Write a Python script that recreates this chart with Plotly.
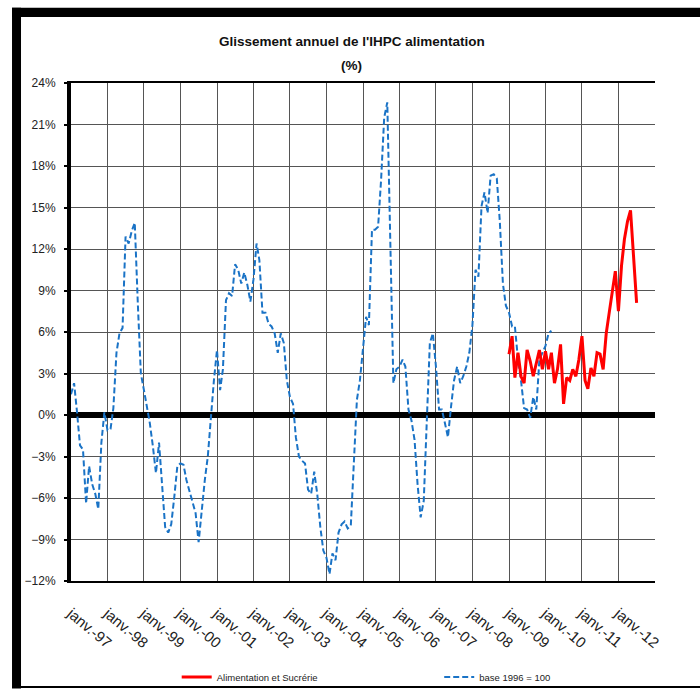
import pandas as pd
import plotly.graph_objects as go

# ---- data ----
blue_start = "1997-01-01"
blue_values = [
    1.5, 2.3, 0.3, -2.2, -2.5, -6.4, -3.7, -5.0, -5.7, -6.8, -2.0, 0.2,          # 1997
    -1.1, -1.0, 0.5, 4.5, 5.9, 6.3, 12.9, 12.4, 13.3, 13.9, 8.0, 3.0,            # 1998
    1.8, 0.6, -0.6, -2.3, -4.2, -2.0, -5.4, -8.1, -8.5, -7.9, -5.9, -3.7,        # 1999
    -3.5, -3.6, -4.7, -5.5, -6.4, -7.1, -9.2, -6.9, -4.7, -3.0, -0.1, 2.5,       # 2000
    4.7, 1.8, 3.3, 8.3, 8.8, 8.6, 10.9, 10.5, 9.5, 10.3, 9.4, 8.2,               # 2001
    9.8, 12.4, 11.2, 7.4, 7.4, 6.6, 6.4, 5.9, 4.5, 5.9, 5.2, 2.5,                # 2002
    1.3, 0.8, -1.6, -3.0, -3.3, -3.5, -5.4, -5.7, -4.1, -5.7, -8.1, -9.8,        # 2003
    -10.3, -11.5, -10.0, -10.5, -8.5, -7.9, -7.7, -8.2, -8.0, -4.0, 1.1, 2.5,    # 2004
    5.0, 7.1, 6.5, 13.4, 13.4, 13.6, 17.0, 21.5, 22.6, 12.0, 2.3, 3.3,           # 2005
    3.5, 4.0, 3.5, 0.4, -0.4, -1.8, -5.0, -7.4, -6.2, -0.5, 5.2, 5.9,            # 2006
    3.5, 0.4, 0.4, -0.6, -1.6, 0.6, 2.5, 3.5, 2.3, 2.8, 3.5, 4.5,                # 2007
    6.5, 10.5, 10.0, 15.1, 16.1, 14.6, 17.3, 17.4, 17.1, 14.0, 9.5, 7.9,         # 2008
    7.4, 6.4, 6.4, 4.0, 2.5, 0.5, 0.4, -0.2, 1.3, 0.4, 4.0, 4.5,                 # 2009
    5.0, 5.9, 6.1,                                                               # 2010
]
red_start = "2009-01-01"
red_values = [
    4.4, 5.7, 2.7, 4.5, 2.8, 2.3, 4.7, 3.9, 2.8, 3.8, 4.7, 3.3,                  # 2009
    4.6, 3.3, 4.5, 2.3, 3.3, 5.1, 0.8, 2.7, 2.5, 3.3, 2.8, 4.0,                  # 2010
    5.7, 2.5, 1.9, 3.4, 2.8, 4.5, 4.4, 3.3, 5.9, 7.4, 8.8, 10.4,                 # 2011
    7.5, 10.8, 12.7, 14.0, 14.8, 11.0, 8.1,                                      # 2012
]
series_names = ["Alimentation et Sucrérie", "base 1996 = 100"]
tick_years = list(range(1997, 2014))
tick_labels = ["janv.-%02d" % (y % 100) for y in tick_years[:-1]] + [""]
title_line1 = "Glissement annuel de l'IHPC alimentation"
title_line2 = "(%)"

x_blue = pd.date_range(blue_start, periods=len(blue_values), freq="MS")
x_red = pd.date_range(red_start, periods=len(red_values), freq="MS")
tick_vals = [pd.Timestamp(f"{y}-01-01") for y in tick_years]

FONT = "Liberation Sans, Arial, sans-serif"

fig = go.Figure()
fig.add_trace(go.Scatter(
    x=x_blue, y=blue_values, mode="lines", name=series_names[1],
    line=dict(color="#1a73c6", width=2, dash="6px,3px"), legend="legend2",
))
fig.add_trace(go.Scatter(
    x=x_red, y=red_values, mode="lines", name=series_names[0],
    line=dict(color="#ff0000", width=3), legend="legend",
))

fig.update_layout(
    width=700, height=689,
    margin=dict(l=71, r=45, t=83, b=108, autoexpand=False),
    paper_bgcolor="white", plot_bgcolor="white",
    font=dict(family=FONT, color="#222", size=12),
    showlegend=True,
    legend=dict(x=0.181, y=-0.193, xanchor="left", yanchor="middle",
                orientation="h", font=dict(family=FONT, size=9.5, color="#222"),
                bgcolor="rgba(0,0,0,0)"),
    legend2=dict(x=0.6305, y=-0.193, xanchor="left", yanchor="middle",
                 orientation="h", font=dict(family=FONT, size=9.5, color="#222"),
                 bgcolor="rgba(0,0,0,0)"),
    xaxis=dict(
        type="date", range=[tick_vals[0], tick_vals[-1]],
        tickmode="array", tickvals=tick_vals, ticktext=tick_labels,
        tickangle=40, tickfont=dict(family=FONT, size=15, color="#222"),
        showgrid=True, gridcolor="#555", gridwidth=1,
        showline=True, linecolor="black", linewidth=2, mirror=True,
        ticks="", ticklabelstandoff=16,
    ),
    yaxis=dict(
        range=[-12, 24], tick0=-12, dtick=3, ticksuffix="%",
        tickfont=dict(family=FONT, size=12, color="#222"),
        showgrid=True, gridcolor="#555", gridwidth=1,
        zeroline=True, zerolinecolor="black", zerolinewidth=6,
        showline=True, linecolor="black", linewidth=4,
        ticks="outside", ticklen=3, tickwidth=2, tickcolor="black",
        ticklabelstandoff=6,
    ),
)

fig.add_annotation(text="<b>" + title_line1 + "</b>", xref="paper", yref="paper",
                   x=0.481, y=1.0843, xanchor="center", yanchor="middle",
                   showarrow=False, font=dict(family=FONT, size=13.5, color="#111"))
fig.add_annotation(text="<b>" + title_line2 + "</b>", xref="paper", yref="paper",
                   x=0.481, y=1.0361, xanchor="center", yanchor="middle",
                   showarrow=False, font=dict(family=FONT, size=13.5, color="#111"))

# outer black frame (decoration of the original image)
fig.add_shape(type="rect", xref="paper", yref="paper",
              x0=-0.101, x1=-0.0856, y0=-0.216, y1=1.151,
              fillcolor="black", line_width=0, layer="above")
fig.add_shape(type="rect", xref="paper", yref="paper",
              x0=-0.101, x1=1.1, y0=1.1325, y1=1.151,
              fillcolor="black", line_width=0, layer="above")
fig.add_shape(type="rect", xref="paper", yref="paper",
              x0=-0.101, x1=1.1, y0=-0.2149, y1=-0.2109,
              fillcolor="black", line_width=0, layer="above")

fig.write_html("out.html")
